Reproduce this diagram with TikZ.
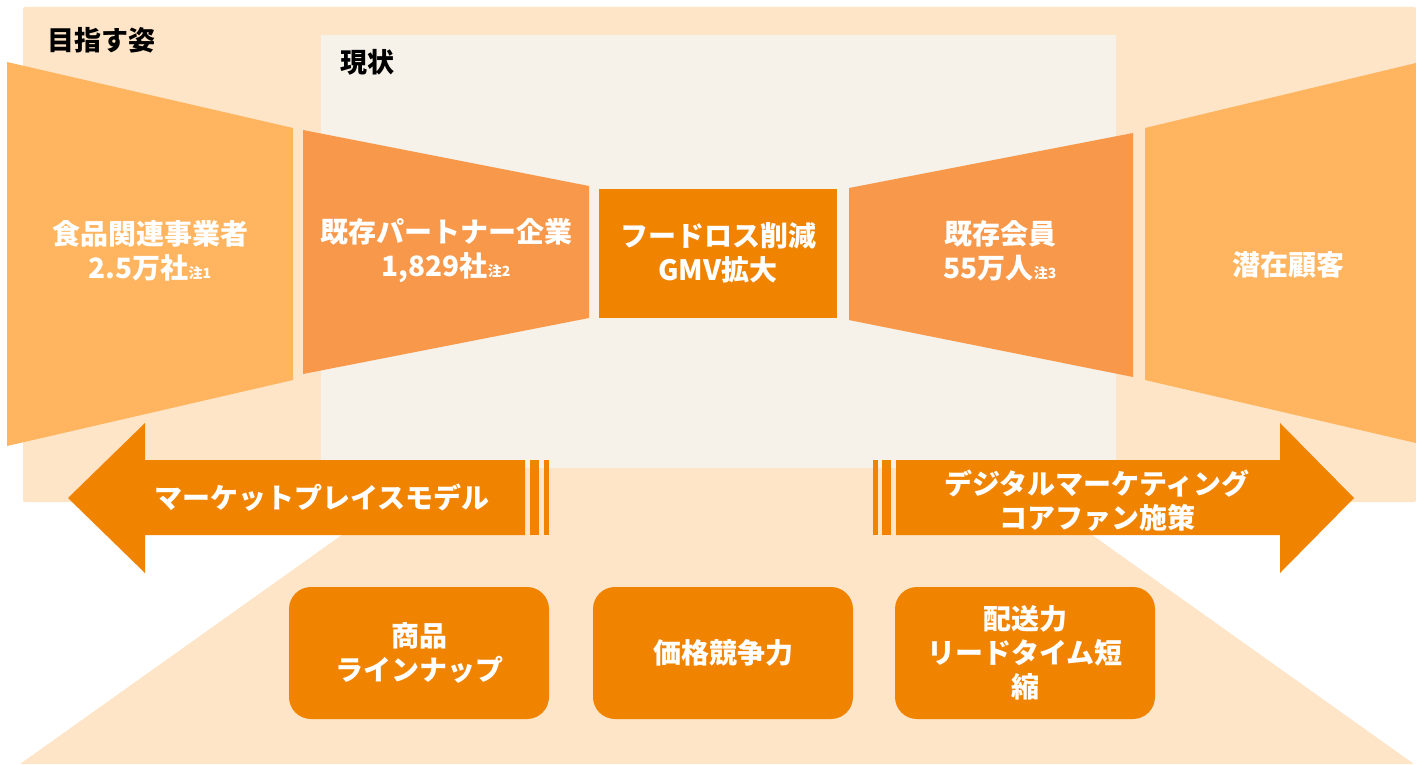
\documentclass[tikz,border=0pt]{standalone}
\usepackage{fontspec}
\setmainfont{Noto Sans CJK JP}
\definecolor{peach}{HTML}{FEE5C8}
\definecolor{beige}{HTML}{F6F1E9}
\definecolor{lorange}{HTML}{FFB55F}
\definecolor{morange}{HTML}{F7984A}
\definecolor{dorange}{HTML}{F08300}
\tikzset{
  lbl/.style={text=white, font=\fontsize{28}{34}\selectfont\bfseries, align=center, inner sep=0pt},
  ttl/.style={text=black, font=\fontsize{27}{34}\selectfont\bfseries, anchor=west, inner sep=0pt},
  fbox/.style={fill=dorange, draw=none, rounded corners=22pt, minimum width=260pt, minimum height=132pt, inner sep=0pt},
}
\newcommand{\note}[1]{{\fontsize{14}{14}\selectfont #1}}
\begin{document}
\begin{tikzpicture}[x=1pt,y=-1pt]
\useasboundingbox (0,0) rectangle (1416,765);
% backgrounds
\fill[peach, rounded corners=2pt] (23,7) rectangle (1416,502);
\fill[peach] (391,500) -- (1043,500) -- (1414,764) -- (20,764) -- cycle;
\fill[beige] (321,35) rectangle (1116,468);
\node[ttl] (goal) at (47,40) {目指す姿};
\node[ttl] (now) at (340,62) {現状};
% funnel
\fill[lorange] (7,62) -- (293,128) -- (293,380) -- (7,446) -- cycle;
\fill[morange] (303,130) -- (589,186) -- (589,318) -- (303,374) -- cycle;
\fill[dorange] (599,189) rectangle (837,318);
\fill[morange] (849,188) -- (1133,133) -- (1133,377) -- (849,320) -- cycle;
\fill[lorange] (1145,128) -- (1416,63) -- (1416,443) -- (1145,380) -- cycle;
\node[lbl] (food) at (150,251) {食品関連事業者\\2.5万社\note{注1}};
\node[lbl] (partner) at (446,251) {既存パートナー企業\\1,829社\note{注2}};
\node[lbl] (center) at (718,253) {フードロス削減\\GMV拡大};
\node[lbl] (member) at (1000,251) {既存会員\\55万人\note{注3}};
\node[lbl] (potential) at (1288,265) {潜在顧客};
% arrows
\fill[dorange] (68,498) -- (145,423) -- (145,460) -- (525,460) -- (525,535) -- (145,535) -- (145,573) -- cycle;
\fill[dorange] (530,460) rectangle (539,535);
\fill[dorange] (544,460) rectangle (549,535);
\fill[dorange] (1354,498) -- (1280,423) -- (1280,460) -- (896,460) -- (896,535) -- (1280,535) -- (1280,573) -- cycle;
\fill[dorange] (882,460) rectangle (891,535);
\fill[dorange] (873,460) rectangle (878,535);
\node[lbl] (mp) at (322,498) {マーケットプレイスモデル};
\node[lbl] (dm) at (1097,501) {デジタルマーケティング\\コアファン施策};
% boxes
\node[fbox] (b1) at (419,653) {};
\node[fbox] (b2) at (723,653) {};
\node[fbox] (b3) at (1025,653) {};
\node[lbl] at (b1) {商品\\ラインナップ};
\node[lbl] at (b2) {価格競争力};
\node[lbl] at (b3) {配送力\\リードタイム短\\縮};
\end{tikzpicture}
\end{document}
